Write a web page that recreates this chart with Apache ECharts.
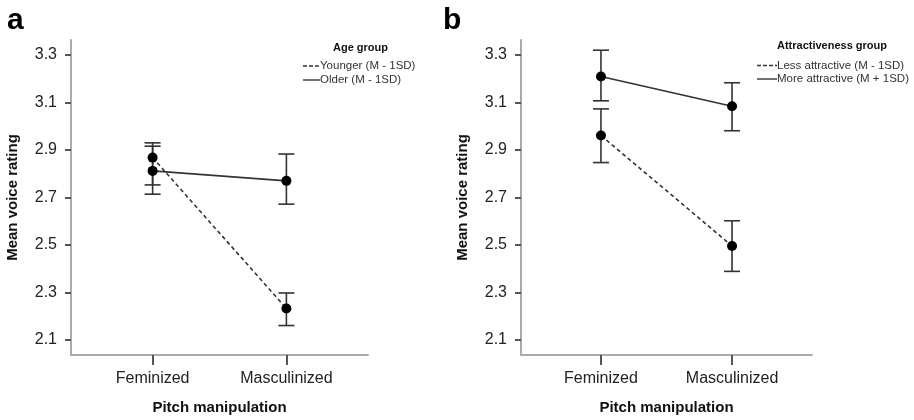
<!DOCTYPE html>
<html>
<head>
<meta charset="utf-8">
<script src="https://cdn.jsdelivr.net/npm/echarts@6/dist/echarts.min.js"></script>
<style>
  html, body { margin: 0; padding: 0; background: #fff; }
  #chart { width: 914px; height: 420px; }
</style>
</head>
<body>
<div id="chart"></div>
<script>
// data
var categories = ['Feminized', 'Masculinized'];
var yTicks = [2.1, 2.3, 2.5, 2.7, 2.9, 3.1, 3.3];

// panel a: age group
var youngerMean = [2.868, 2.233];
var youngerLow = [2.753, 2.161];
var youngerHigh = [2.930, 2.298];
var olderMean = [2.812, 2.770];
var olderLow = [2.714, 2.672];
var olderHigh = [2.916, 2.883];

// panel b: attractiveness group
var lessMean = [2.961, 2.496];
var lessLow = [2.847, 2.389];
var lessHigh = [3.073, 2.602];
var moreMean = [3.209, 3.084];
var moreLow = [3.107, 2.981];
var moreHigh = [3.320, 3.183];

var FONT = '"Liberation Sans", Arial, sans-serif';
var LINE = '#333';

function pts(vals) {
  return vals.map(function (v, i) { return [i, v]; });
}
function bars(lo, hi) {
  return lo.map(function (v, i) { return [i, v, hi[i]]; });
}

function errorBar(api) {
  var x = api.value(0);
  var top = api.coord([x, api.value(2)]);
  var bot = api.coord([x, api.value(1)]);
  var w = 8;
  var st = { stroke: '#333', lineWidth: 1.6 };
  return {
    type: 'group',
    children: [
      { type: 'line', shape: { x1: top[0], y1: top[1], x2: bot[0], y2: bot[1] }, style: st },
      { type: 'line', shape: { x1: top[0] - w, y1: top[1], x2: top[0] + w, y2: top[1] }, style: st },
      { type: 'line', shape: { x1: bot[0] - w, y1: bot[1], x2: bot[0] + w, y2: bot[1] }, style: st }
    ]
  };
}

function xAxisFor(idx) {
  return {
    gridIndex: idx,
    type: 'value',
    min: -0.61,
    max: 1.61,
    name: 'Pitch manipulation',
    nameLocation: 'middle',
    nameGap: 45,
    nameTextStyle: { fontFamily: FONT, fontWeight: 'bold', fontSize: 15, color: '#111' },
    axisLine: { show: true, onZero: false, lineStyle: { color: '#aaa', width: 2 } },
    axisTick: { show: true, customValues: [0, 1], length: 10, lineStyle: { color: '#555', width: 2 } },
    axisLabel: {
      customValues: [0, 1],
      margin: 16,
      fontFamily: FONT, fontSize: 16, color: '#222',
      formatter: function (v) { return categories[Math.round(v)]; }
    },
    splitLine: { show: false }
  };
}

function yAxisFor(idx) {
  return {
    gridIndex: idx,
    type: 'value',
    min: 2.037,
    max: 3.363,
    name: 'Mean voice rating',
    nameLocation: 'middle',
    nameGap: 51,
    nameTextStyle: { fontFamily: FONT, fontWeight: 'bold', fontSize: 15, color: '#111' },
    axisLine: { show: true, onZero: false, lineStyle: { color: '#aaa', width: 2 } },
    axisTick: { show: true, customValues: yTicks, length: 6, lineStyle: { color: '#555', width: 2 } },
    axisLabel: {
      customValues: yTicks,
      margin: 14,
      fontFamily: FONT, fontSize: 16, color: '#222',
      formatter: function (v) { return v.toFixed(1); }
    },
    splitLine: { show: false }
  };
}

function lineSeries(idx, data, dashed) {
  return {
    type: 'line',
    xAxisIndex: idx,
    yAxisIndex: idx,
    data: pts(data),
    symbol: 'circle',
    symbolSize: 10,
    itemStyle: { color: '#000' },
    lineStyle: { color: LINE, width: 1.6, type: dashed ? [4, 3] : 'solid' },
    z: 3
  };
}

function errSeries(idx, lo, hi) {
  return {
    type: 'custom',
    xAxisIndex: idx,
    yAxisIndex: idx,
    data: bars(lo, hi),
    renderItem: function (params, api) { return errorBar(api); },
    z: 2
  };
}

function legendItems(x0, x1, yTitle, y1, y2, title, lab1, lab2) {
  var ts = { fontFamily: FONT, fontSize: 11.5, fill: '#333', verticalAlign: 'middle' };
  return [
    { type: 'text', left: x1 + 13, top: yTitle - 7,
      style: { text: title, fontFamily: FONT, fontWeight: 'bold', fontSize: 11, fill: '#111' } },
    { type: 'line', shape: { x1: x0, y1: y1, x2: x1, y2: y1 },
      style: { stroke: LINE, lineWidth: 1.4, lineDash: [4, 2] } },
    { type: 'text', x: x1, y: y1, style: Object.assign({ text: lab1 }, ts) },
    { type: 'line', shape: { x1: x0, y1: y2, x2: x1, y2: y2 },
      style: { stroke: LINE, lineWidth: 1.4 } },
    { type: 'text', x: x1, y: y2, style: Object.assign({ text: lab2 }, ts) }
  ];
}

var chart = echarts.init(document.getElementById('chart'));

var option = {
  backgroundColor: '#fff',
  animation: false,
  grid: [
    { left: 71, top: 40, width: 297, height: 317 },
    { left: 521, top: 40, width: 291, height: 317 }
  ],
  xAxis: [xAxisFor(0), xAxisFor(1)],
  yAxis: [yAxisFor(0), yAxisFor(1)],
  series: [
    errSeries(0, youngerLow, youngerHigh),
    errSeries(0, olderLow, olderHigh),
    lineSeries(0, youngerMean, true),
    lineSeries(0, olderMean, false),
    errSeries(1, lessLow, lessHigh),
    errSeries(1, moreLow, moreHigh),
    lineSeries(1, lessMean, true),
    lineSeries(1, moreMean, false)
  ],
  graphic: [
    { type: 'text', left: 7, top: 6,
      style: { text: 'a', fontFamily: FONT, fontWeight: 'bold', fontSize: 30, fill: '#000' } },
    { type: 'text', left: 443, top: 6,
      style: { text: 'b', fontFamily: FONT, fontWeight: 'bold', fontSize: 30, fill: '#000' } }
  ]
    .concat(legendItems(303, 320, 49, 66, 80, 'Age group',
      'Younger (M - 1SD)', 'Older (M - 1SD)'))
    .concat(legendItems(757, 777, 47, 65.5, 79, 'Attractiveness group',
      'Less attractive (M - 1SD)', 'More attractive (M + 1SD)'))
};

// title of panel b legend starts closer to its lines
option.graphic[2 + 5].left = 777;

chart.setOption(option);
</script>
</body>
</html>
